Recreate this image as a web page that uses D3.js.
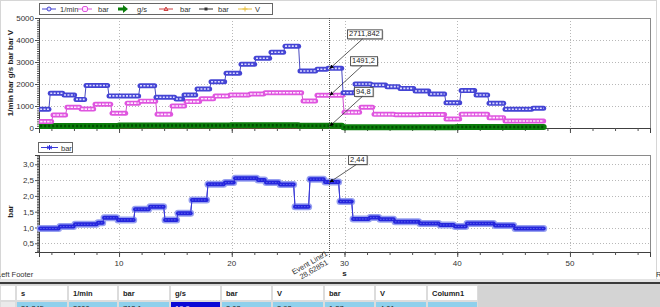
<!DOCTYPE html>
<html>
<head>
    <title>Measurement chart</title>
    <script src="https://d3js.org/d3.v7.min.js"></script>
    <style>
        body { margin: 0; background: #fff; }
        svg { display: block; font-family: "Liberation Sans", Arial, sans-serif; }
    </style>
</head>
<body>
    <div id="chart"></div>

    <script>
        // step series: start time of each step (s) and its level
        const rpmT = [3.0, 3.9, 5.12, 6.18, 7.07, 9.11, 11.86, 13.28, 15.05, 15.76, 16.92, 18.16, 19.49, 20.82, 22.15, 23.48, 24.72, 26.05, 27.56, 28.54, 29.87, 30.93, 32.44, 33.77, 34.92, 36.26, 37.59, 39.0, 40.34, 41.67, 42.82, 44.24, 46.72];
        const rpmV = [850, 1580, 1500, 1300, 1930, 1460, 1920, 1400, 1320, 1500, 1770, 2100, 2490, 2900, 3170, 3440, 3720, 2590, 2670, 2712, 1600, 2000, 1950, 1880, 1800, 1680, 1545, 1150, 1700, 1500, 1120, 850, 895];

        const pressT = [3.0, 4.14, 5.38, 6.63, 7.87, 9.38, 10.71, 11.86, 13.37, 14.7, 15.94, 17.27, 18.51, 19.84, 21.62, 22.95, 26.32, 27.56, 29.96, 31.46, 32.62, 34.5, 36.7, 39.0, 40.34, 42.82, 44.24];
        const pressV = [290, 590, 940, 860, 1080, 670, 1130, 1220, 620, 1000, 1200, 1330, 1450, 1500, 1545, 1600, 1230, 1491, 712, 940, 620, 600, 610, 410, 620, 470, 320];

        const flowT = [3.0, 10.0, 20.0, 26.0, 29.9, 40.0];
        const flowV = [90, 110, 130, 100, 30, 40];

        const redT = [3.0];
        const redV = [20];

        const barT = [3.0, 4.76, 6.09, 8.13, 8.67, 9.91, 11.42, 12.75, 14.08, 15.23, 16.47, 17.89, 19.4, 20.29, 22.33, 23.04, 24.28, 25.61, 26.94, 28.27, 29.6, 30.76, 32.26, 33.15, 34.48, 36.7, 38.47, 39.8, 40.87, 43.35, 45.13];
        const barV = [0.97, 1.03, 1.10, 1.15, 1.31, 1.24, 1.58, 1.66, 1.24, 1.45, 1.87, 2.37, 2.42, 2.56, 2.50, 2.42, 2.36, 1.66, 2.53, 2.44, 1.82, 1.27, 1.32, 1.26, 1.18, 1.13, 1.08, 1.03, 1.13, 1.06, 0.97];

        const tEnd = 47.79;
        const eventT = 28.62851;

        const topTicks = [0, 1000, 2000, 3000, 4000, 5000];
        const botTicks = [0.5, 1.0, 1.5, 2.0, 2.5, 3.0];
        const xTicks = [10, 20, 30, 40, 50];

        const legendTop = ["1/min", "bar", "g/s", "bar", "bar", "V"];
        const tableHead = ["s", "1/min", "bar", "g/s", "bar", "V", "bar", "V", "Column1"];
        const tableRow = ["31,345", "2000", "712,1", "19,9", "2,03", "2,92", "1,27", "4,01", ""];

        const comma = v => String(v).replace(".", ",");

        const W = 660, H = 307;
        const L = 39, R = 650;
        const top1 = 18, bot1 = 128;
        const top2 = 155, bot2 = 252;

        const svg = d3.select("#chart").append("svg")
            .attr("width", W)
            .attr("height", H);

        svg.append("rect").attr("width", W).attr("height", H).attr("fill", "#fff");
        svg.append("rect").attr("x", 0.5).attr("y", 0.5).attr("width", 656).attr("height", 280)
            .attr("fill", "none").attr("stroke", "#d6d6d6");

        const x = d3.scaleLinear().domain([2.9, 57.1]).range([L, R]);
        const yTop = d3.scaleLinear().domain([0, 5000]).range([bot1, top1]);
        const yBot = d3.scaleLinear().domain([0.225, 3.294]).range([bot2, top2]);

        const minorX = d3.range(4, 57, 2);

        function panel(y, t0, t1, major, minor, fmt) {
            const g = svg.append("g");
            // grid
            g.selectAll(null).data(major).join("line")
                .attr("x1", L).attr("x2", R)
                .attr("y1", d => Math.round(y(d)) + 0.5).attr("y2", d => Math.round(y(d)) + 0.5)
                .attr("stroke", "#b8b8b8").attr("stroke-dasharray", "1,2");
            g.selectAll(null).data(xTicks).join("line")
                .attr("x1", d => Math.round(x(d)) + 0.5).attr("x2", d => Math.round(x(d)) + 0.5)
                .attr("y1", t0).attr("y2", t1)
                .attr("stroke", "#b8b8b8").attr("stroke-dasharray", "1,2");
            // frame
            g.append("rect").attr("x", L + 0.5).attr("y", t0 + 0.5)
                .attr("width", R - L).attr("height", t1 - t0)
                .attr("fill", "none").attr("stroke", "#8a8a8a");

            g.append("g").attr("transform", `translate(${L},0)`)
                .call(d3.axisLeft(y).tickValues(major).tickSize(4).tickPadding(1).tickFormat(fmt));
            g.append("g").attr("transform", `translate(${L},0)`)
                .call(d3.axisLeft(y).tickValues(minor).tickSize(2).tickFormat(""));

            g.append("g").attr("transform", `translate(0,${t1})`)
                .call(d3.axisBottom(x).tickValues(xTicks).tickSize(5).tickFormat(""));
            g.append("g").attr("transform", `translate(0,${t1})`)
                .call(d3.axisBottom(x).tickValues(minorX).tickSize(3).tickFormat(""));

            g.selectAll(".domain").attr("stroke", "#404040");
            g.selectAll(".tick line").attr("stroke", "#505050");
            g.selectAll(".tick text").attr("font-size", 8).attr("fill", "#333")
                .attr("font-family", "Liberation Sans, Arial, sans-serif");
            return g;
        }

        panel(yTop, top1, bot1, topTicks, d3.range(0, 5001, 100), d => d);
        panel(yBot, top2, bot2, botTicks, d3.range(0.25, 3.3, 0.05), d => comma(d3.format(".1f")(d)));

        // x labels on lower panel
        svg.append("g").selectAll(null).data(xTicks).join("text")
            .attr("x", d => x(d)).attr("y", 266)
            .attr("text-anchor", "middle").attr("font-size", 8).attr("fill", "#333")
            .text(d => d);

        // axis titles
        svg.append("text").attr("transform", `translate(13,${(top1 + bot1) / 2}) rotate(-90)`)
            .attr("text-anchor", "middle").attr("font-size", 8).attr("font-weight", "bold").attr("fill", "#222")
            .text(legendTop.join(" "));
        svg.append("text").attr("transform", `translate(13,${(top2 + bot2) / 2 + 8}) rotate(-90)`)
            .attr("text-anchor", "middle").attr("font-size", 8).attr("font-weight", "bold").attr("fill", "#222")
            .text("bar");
        svg.append("text").attr("x", x(30)).attr("y", 276)
            .attr("text-anchor", "middle").attr("font-size", 8).attr("font-weight", "bold").attr("fill", "#222")
            .text("s");
        svg.append("text").attr("x", -3).attr("y", 277).attr("font-size", 7.5).attr("fill", "#333").text("Left Footer");

        // step series
        svg.append("clipPath").attr("id", "c1").append("rect")
            .attr("x", L).attr("y", top1).attr("width", R - L).attr("height", bot1 - top1 + 4);

        function steps(ts, vs, y) {
            const segs = ts.map((t, i) => ({ t0: t, t1: (i < ts.length - 1 ? ts[i + 1] : tEnd) - 0.12, v: vs[i] }));
            const pts = [];
            segs.forEach(s => { pts.push([s.t0, s.v]); pts.push([s.t1, s.v]); });
            return { segs, path: d3.line().x(d => x(d[0])).y(d => y(d[1]))(pts) };
        }

        function drawChain(parent, ts, vs, y, outer, inner, ow, iw, dash, thin) {
            const s = steps(ts, vs, y);
            parent.append("path").attr("d", s.path).attr("fill", "none")
                .attr("stroke", thin).attr("stroke-width", 1);
            parent.selectAll(null).data(s.segs).join("line")
                .attr("x1", d => x(d.t0)).attr("x2", d => x(d.t1))
                .attr("y1", d => y(d.v)).attr("y2", d => y(d.v))
                .attr("stroke", outer).attr("stroke-width", ow).attr("stroke-linecap", "round");
            if (inner) {
                parent.selectAll(null).data(s.segs).join("line")
                    .attr("x1", d => x(d.t0)).attr("x2", d => x(d.t1))
                    .attr("y1", d => y(d.v)).attr("y2", d => y(d.v))
                    .attr("stroke", inner).attr("stroke-width", iw).attr("stroke-dasharray", dash);
            }
        }

        const s1 = svg.append("g").attr("clip-path", "url(#c1)");
        drawChain(s1, redT, redV, yTop, "#b03a3a", null, 2, 0, null, "#b03a3a");
        s1.select("line").attr("stroke-dasharray", "1.5,1.5");
        drawChain(s1, flowT, flowV, yTop, "#0b7d0b", "#004f00", 6, 2.5, "2,2", "#0b7d0b");
        drawChain(s1, pressT, pressV, yTop, "#df55df", "#ffe8ff", 5, 1.6, "2.5,1", "#d050d0");
        drawChain(s1, rpmT, rpmV, yTop, "#4444d4", "#dcdcff", 5, 1.6, "2,1.4", "#4a4ac0");

        const s2 = svg.append("g");
        drawChain(s2, barT, barV, yBot, "#97a0f0", null, 7, 0, null, "#3a3ad8");
        drawChain(s2, barT, barV, yBot, "#2525dc", "#5a62ec", 4, 1, "1.5,1.5", "#3a3ad8");

        // event line
        svg.append("line").attr("x1", Math.round(x(eventT)) + 0.5).attr("x2", Math.round(x(eventT)) + 0.5)
            .attr("y1", top1).attr("y2", 257)
            .attr("stroke", "#555").attr("stroke-dasharray", "1,1");
        const ev = svg.append("g").attr("transform", `translate(${x(eventT) - 1},${255}) rotate(-30)`)
            .attr("font-size", 7.5).attr("fill", "#333").attr("text-anchor", "end");
        ev.append("text").attr("x", 0).attr("y", 0).text("Event Line1");
        ev.append("text").attr("x", -4).attr("y", 8).text("28,62851");

        // callouts
        svg.append("defs").append("marker").attr("id", "ah")
            .attr("viewBox", "0 0 10 10").attr("refX", 9).attr("refY", 5)
            .attr("markerWidth", 5).attr("markerHeight", 5).attr("orient", "auto")
            .append("path").attr("d", "M0,0L10,5L0,10z").attr("fill", "#000");

        const callouts = [
            { v: 2711.842, y: yTop, label: "2711,842", dx: 18, dy: -39 },
            { v: 1491.2, y: yTop, label: "1491,2", dx: 21, dy: -39 },
            { v: 94.8, y: yTop, label: "94,8", dx: 25, dy: -39 },
            { v: 2.44, y: yBot, label: "2,44", dx: 19, dy: -27 }
        ];
        callouts.forEach(c => {
            const px = x(eventT), py = c.y(c.v);
            const bx = px + c.dx, by = py + c.dy;
            const g = svg.append("g");
            const t = g.append("text").attr("x", bx + 2).attr("y", by + 6.8)
                .attr("font-size", 7.5).attr("fill", "#222").text(c.label);
            const w = t.node().getComputedTextLength() + 4;
            g.insert("rect", "text").attr("x", bx + 1.5).attr("y", by + 1.5).attr("width", w).attr("height", 9)
                .attr("fill", "#bbb");
            g.insert("rect", "text").attr("x", bx + 0.5).attr("y", by + 0.5).attr("width", w).attr("height", 9)
                .attr("fill", "#fff").attr("stroke", "#555");
            g.append("line").attr("x1", bx + w * 0.45).attr("y1", by + 9.5).attr("x2", px + 1).attr("y2", py)
                .attr("stroke", "#333").attr("stroke-width", 0.8).attr("marker-end", "url(#ah)");
        });

        // legends
        function symbol(g, i, cx, cy) {
            const cols = ["#4848d2", "#df55df", "#0b7d0b", "#d04040", "#333", "#e8c040"];
            const c = cols[i];
            if (i !== 2) g.append("line").attr("x1", cx - 7).attr("x2", cx + 7).attr("y1", cy).attr("y2", cy)
                .attr("stroke", c).attr("stroke-width", 1);
            if (i === 0) g.append("circle").attr("cx", cx).attr("cy", cy).attr("r", 2).attr("fill", "#dcdcff").attr("stroke", c);
            if (i === 1) g.append("rect").attr("x", cx - 2.5).attr("y", cy - 2.5).attr("width", 5).attr("height", 5).attr("rx", 1.5)
                .attr("fill", "#ffe8ff").attr("stroke", c);
            if (i === 2) g.append("path").attr("d", `M${cx - 5},${cy - 1.5}h5v-2.5l5,4l-5,4v-2.5h-5z`).attr("fill", c);
            if (i === 3) g.append("path").attr("d", `M${cx - 2},${cy + 1.5}L${cx},${cy - 2}L${cx + 2},${cy + 1.5}z`).attr("fill", "none").attr("stroke", c);
            if (i === 4) g.append("rect").attr("x", cx - 1.5).attr("y", cy - 1.5).attr("width", 3).attr("height", 3).attr("fill", c);
            if (i === 5) g.append("path").attr("d", `M${cx},${cy - 2.5}V${cy + 2.5}M${cx - 2.5},${cy}H${cx + 2.5}`).attr("stroke", c);
        }

        const lg = svg.append("g");
        lg.append("rect").attr("x", 39.5).attr("y", 3.5).attr("width", 233).attr("height", 11)
            .attr("fill", "#fff").attr("stroke", "#666");
        const symX = [49, 85, 123, 166, 206, 245];
        const txtX = [60, 98, 137, 180, 218, 255];
        legendTop.forEach((name, i) => {
            symbol(lg, i, symX[i], 9);
            lg.append("text").attr("x", txtX[i]).attr("y", 11.8).attr("font-size", 7.5).attr("fill", "#333").text(name);
        });

        const lg2 = svg.append("g");
        lg2.append("rect").attr("x", 38.5).attr("y", 142.5).attr("width", 34).attr("height", 10)
            .attr("fill", "#fff").attr("stroke", "#666");
        lg2.append("line").attr("x1", 41).attr("x2", 58).attr("y1", 147.5).attr("y2", 147.5).attr("stroke", "#3a3ad8");
        lg2.append("path").attr("d", "M49.5,145v5M47,146l5,3M47,149l5,-3").attr("stroke", "#2a2ae0").attr("stroke-width", 1);
        lg2.append("text").attr("x", 61).attr("y", 150.5).attr("font-size", 7.5).attr("fill", "#333").text("bar");

        svg.append("text").attr("x", 656).attr("y", 277).attr("font-size", 7.5).attr("fill", "#333").text("Right Footer");

        // data grid at bottom
        const colX = [0, 16, 68, 118, 170, 221, 272, 324, 375, 427, 478];
        const grid = svg.append("g");
        grid.append("rect").attr("x", 0).attr("y", 279).attr("width", W).attr("height", 4).attr("fill", "#e4e4e4");
        grid.append("rect").attr("x", 0).attr("y", 282).attr("width", W).attr("height", 2).attr("fill", "#3a3a3a");
        grid.append("rect").attr("x", 0).attr("y", 284).attr("width", W).attr("height", H - 284).attr("fill", "#d4d4d4");
        for (let i = 0; i < colX.length - 1; i++) {
            const x0 = colX[i], w = colX[i + 1] - colX[i];
            grid.append("rect").attr("x", x0 + 0.5).attr("y", 285.5).attr("width", w - 1).attr("height", 15)
                .attr("fill", "#fff").attr("stroke", "#dcdcdc");
            const fill = i === 0 ? "#eaeaea" : (i === 4 ? "#0a0ad6" : "#8fd0ec");
            grid.append("rect").attr("x", x0 + 0.5).attr("y", 301.5).attr("width", w - 1).attr("height", 15)
                .attr("fill", fill).attr("stroke", "#dcdcdc");
            if (i > 0) {
                grid.append("text").attr("x", x0 + 5).attr("y", 296).attr("font-size", 7.5)
                    .attr("font-weight", "bold").attr("fill", "#222").text(tableHead[i - 1]);
                grid.append("text").attr("x", x0 + 5).attr("y", 311).attr("font-size", 7.5)
                    .attr("fill", i === 4 ? "#fff" : "#222").text(tableRow[i - 1]);
            }
        }
    </script>
</body>
</html>
